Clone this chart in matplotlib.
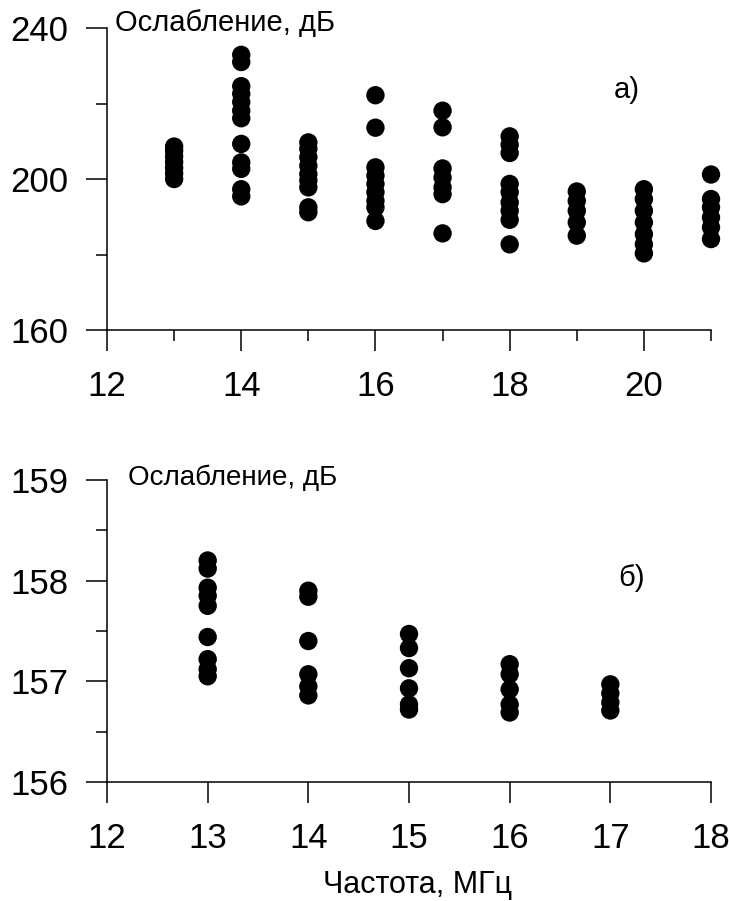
"""
Attenuation vs frequency, two panels (a, b).
"""

import matplotlib
matplotlib.use("Agg")
import matplotlib.pyplot as plt
from matplotlib.ticker import MultipleLocator

plt.rcParams["font.family"] = ["Liberation Sans", "DejaVu Sans"]

# panel a): frequency (MHz) -> attenuation values (dB)
freq_a = [13, 14, 15, 16, 17, 18, 19, 20, 21]
atten_a = [
    [200.0, 201.5, 203.0, 204.5, 206.0, 207.5, 208.6],
    [232.9, 231.0, 224.6, 222.6, 220.4, 218.1, 216.1, 209.3, 204.4, 202.7, 197.3, 195.4],
    [209.7, 208.0, 205.8, 203.5, 201.3, 199.6, 197.8, 192.5, 191.2],
    [222.2, 213.6, 203.1, 200.9, 198.7, 196.5, 194.2, 192.5, 188.9],
    [218.1, 213.7, 202.8, 200.4, 197.8, 196.0, 185.6],
    [211.3, 209.1, 206.9, 198.7, 196.5, 193.8, 191.6, 189.2, 182.7],
    [196.7, 194.2, 191.6, 188.5, 185.0],
    [197.3, 194.7, 191.6, 188.5, 185.4, 182.7, 180.3],
    [201.2, 194.7, 192.5, 189.8, 187.2, 184.1],
]

# panel б)
freq_b = [13, 14, 15, 16, 17]
atten_b = [
    [158.20, 158.12, 157.93, 157.85, 157.75, 157.44, 157.22, 157.12, 157.05],
    [157.90, 157.84, 157.40, 157.07, 156.95, 156.86],
    [157.47, 157.33, 157.13, 156.93, 156.77, 156.72],
    [157.17, 157.07, 156.92, 156.77, 156.69],
    [156.97, 156.88, 156.79, 156.71],
]

ylabel = "Ослабление, дБ"
xlabel = "Частота, МГц"


def style_axis(ax):
    for side in ("top", "right"):
        ax.spines[side].set_visible(False)
    for side in ("left", "bottom"):
        ax.spines[side].set_linewidth(1.1)
    ax.tick_params(which="major", length=15, width=1.1, labelsize=25)
    ax.tick_params(which="minor", length=8, width=1.1)
    ax.tick_params(axis="x", pad=14)
    ax.tick_params(axis="y", pad=13)


def scatter_columns(ax, freqs, values):
    for f, vals in zip(freqs, values):
        ax.scatter([f] * len(vals), vals, s=175, color="black",
                   edgecolors="none", clip_on=False, zorder=3)


fig = plt.figure(figsize=(7.29, 9.01), dpi=100)

ax1 = fig.add_axes([0.1468, 0.6337, 0.8285, 0.3352])
scatter_columns(ax1, freq_a, atten_a)
ax1.set_xlim(12, 21)
ax1.set_ylim(160, 240)
ax1.xaxis.set_major_locator(MultipleLocator(2))
ax1.xaxis.set_minor_locator(MultipleLocator(1))
ax1.yaxis.set_major_locator(MultipleLocator(40))
ax1.yaxis.set_minor_locator(MultipleLocator(20))
style_axis(ax1)
ax1.text(0.013, 1.017, ylabel, transform=ax1.transAxes, fontsize=21,
         ha="left", va="center")
ax1.text(0.86, 0.795, "а)", transform=ax1.transAxes, fontsize=21,
         ha="center", va="center")

ax2 = fig.add_axes([0.1468, 0.1321, 0.8285, 0.3352])
scatter_columns(ax2, freq_b, atten_b)
ax2.set_xlim(12, 18)
ax2.set_ylim(156, 159)
ax2.xaxis.set_major_locator(MultipleLocator(1))
ax2.yaxis.set_major_locator(MultipleLocator(1))
ax2.yaxis.set_minor_locator(MultipleLocator(0.5))
style_axis(ax2)
ax2.text(0.035, 1.007, ylabel, transform=ax2.transAxes, fontsize=20,
         ha="left", va="center")
ax2.text(0.869, 0.675, "б)", transform=ax2.transAxes, fontsize=21,
         ha="center", va="center")

fig.text(0.573, 0.018, xlabel, fontsize=22, ha="center", va="center")

fig.savefig("out.png", dpi=100)
plt.close(fig)
